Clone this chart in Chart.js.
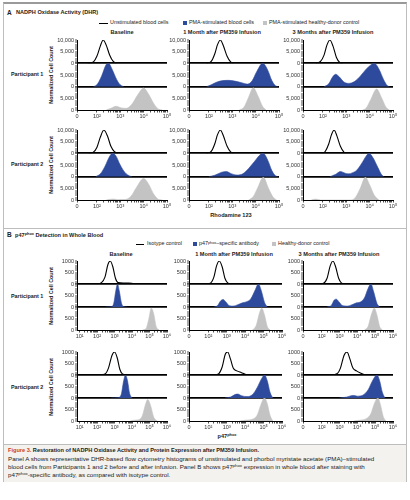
<!DOCTYPE html>
<html>
<head>
<meta charset="utf-8">
<script src="https://cdn.jsdelivr.net/npm/chart.js@4.4.1/dist/chart.umd.min.js"></script>
<style>
  body { margin: 0; width: 410px; height: 500px; background: #fff; position: relative; overflow: hidden;
         font-family: 'Liberation Sans', Arial, sans-serif; color: #222; }
  .t { position: absolute; white-space: nowrap; line-height: 1; }
  .b { font-weight: bold; }
  .c { transform: translateX(-50%); }
  .rot { transform: translate(-50%, -50%) rotate(-90deg); }
  .sq { position: absolute; width: 4px; height: 4px; }
  .ln { position: absolute; height: 0; }
  canvas { position: absolute; }
  sup { font-size: 70%; vertical-align: 0; position: relative; top: -0.45em; }
</style>
</head>
<body>
<div style="position:absolute;left:3px;top:2px;width:404px;height:480px;box-sizing:border-box;border:1px solid #bdbdbd;border-top:2px solid #9a9a9a"></div>
<div class="ln" style="left:3px;width:404px;top:228px;border-top:1px solid #bdbdbd"></div>
<div style="position:absolute;left:4px;top:444px;width:402px;height:37px;background:#f4f2ee;border-top:1px solid #bdbdbd"></div>

<!-- panel A header + legend -->
<div class="t b" style="left:7px;top:10px;font-size:6.5px">A</div>
<div class="t b" style="left:16px;top:10px;font-size:5.6px">NADPH Oxidase Activity (DHR)</div>
<div class="ln" style="left:99px;width:9px;top:22.5px;border-top:1.3px solid #000"></div>
<div class="t" style="left:110px;top:20.3px;font-size:5.4px">Unstimulated blood cells</div>
<div class="sq" style="left:183px;top:21px;background:#2d4a9c"></div>
<div class="t" style="left:189px;top:20.3px;font-size:5.4px">PMA-stimulated blood cells</div>
<div class="sq" style="left:263px;top:21px;background:#c3c3c3"></div>
<div class="t" style="left:269px;top:20.3px;font-size:5.4px">PMA-stimulated healthy-donor control</div>
<div class="t b c" style="left:122px;top:30px;font-size:5.6px">Baseline</div>
<div class="t b c" style="left:222px;top:30px;font-size:5.6px">1 Month after PM359 Infusion</div>
<div class="t b c" style="left:333px;top:30px;font-size:5.6px">3 Months after PM359 Infusion</div>
<div class="t b" style="left:11px;top:71.5px;font-size:5.4px">Participant 1</div>
<div class="t b" style="left:11px;top:161.5px;font-size:5.4px">Participant 2</div>
<div class="t b rot" style="left:52px;top:75px;font-size:5.4px">Normalized Cell Count</div>
<div class="t b rot" style="left:52px;top:165px;font-size:5.4px">Normalized Cell Count</div>
<div class="t b c" style="left:231px;top:213px;font-size:5.6px">Rhodamine 123</div>

<!-- panel B header + legend -->
<div class="t b" style="left:7px;top:232px;font-size:6.5px">B</div>
<div class="t b" style="left:15px;top:232.5px;font-size:5.6px">p47<sup>phox</sup> Detection in Whole Blood</div>
<div class="ln" style="left:136px;width:8px;top:243.5px;border-top:1.3px solid #000"></div>
<div class="t" style="left:147px;top:241.3px;font-size:5.4px">Isotype control</div>
<div class="sq" style="left:193px;top:242px;background:#2d4a9c"></div>
<div class="t" style="left:199px;top:241.3px;font-size:5.4px">p47<sup>phox</sup>–specific antibody</div>
<div class="sq" style="left:272px;top:242px;background:#c3c3c3"></div>
<div class="t" style="left:278px;top:241.3px;font-size:5.4px">Healthy-donor control</div>
<div class="t b c" style="left:121px;top:252px;font-size:5.6px">Baseline</div>
<div class="t b c" style="left:234px;top:252px;font-size:5.6px">1 Month after PM359 Infusion</div>
<div class="t b c" style="left:339px;top:252px;font-size:5.6px">3 Months after PM359 Infusion</div>
<div class="t b" style="left:11px;top:293.5px;font-size:5.4px">Participant 1</div>
<div class="t b" style="left:11px;top:384.5px;font-size:5.4px">Participant 2</div>
<div class="t b rot" style="left:52px;top:295.5px;font-size:5.4px">Normalized Cell Count</div>
<div class="t b rot" style="left:52px;top:386.5px;font-size:5.4px">Normalized Cell Count</div>
<div class="t b c" style="left:227px;top:434px;font-size:5.6px">p47<sup>phox</sup></div>

<!-- caption -->
<div class="t b" style="left:8px;top:448px;font-size:5.6px"><span style="color:#c9412c">Figure 3.</span> Restoration of NADPH Oxidase Activity and Protein Expression after PM359 Infusion.</div>
<div class="t" style="left:8px;top:456px;font-size:6.2px">Panel A shows representative DHR-based flow cytometry histograms of unstimulated and phorbol myristate acetate (PMA)–stimulated</div>
<div class="t" style="left:8px;top:464px;font-size:6.2px">blood cells from Participants 1 and 2 before and after infusion. Panel B shows p47<sup>phox</sup> expression in whole blood after staining with</div>
<div class="t" style="left:8px;top:472px;font-size:6.2px">p47<sup>phox</sup>-specific antibody, as compared with isotype control.</div>

<script>
// x values are log10 of fluorescence, y values are cell counts

// --- axis ticks ---
const xTicksA = [1.15, 2, 3, 4, 5];
const xLabelsA = ['0', '10²', '10³', '10⁴', '10⁵'];
const xTicksB1 = [1, 2, 3, 4, 5, 6];
const xLabelsB1 = ['10¹', '10²', '10³', '10⁴', '10⁵', '10⁶'];
const xTicksB = [0.95, 2, 3, 4, 5, 6];
const xLabelsB = ['0', '10²', '10³', '10⁴', '10⁵', '10⁶'];
const yTicksA = [0, 5000, 10000];
const yLabelsA = ['0', '5,000', '10,000'];
const yTicksB = [0, 500, 1000];
const yLabelsB = ['0', '500', '1000'];

// --- Panel A (DHR), participant 1 ---
const aP1BaseUnstim = [[1.6,0],[1.85,600],[2.0,3000],[2.15,7500],[2.27,10000],[2.4,7800],[2.55,3500],[2.7,800],[2.85,0]];
const aP1BasePma = [[1.85,0],[2.0,800],[2.2,4500],[2.4,9500],[2.5,10000],[2.65,7500],[2.85,3000],[3.0,800],[3.15,0]];
const aP1BaseHealthy = [[2.4,0],[2.6,700],[2.82,1600],[3.05,900],[3.25,700],[3.5,2500],[3.75,6500],[4.0,9400],[4.2,7000],[4.45,2500],[4.65,300],[4.8,0]];
const aP1M1Unstim = [[1.9,0],[2.1,800],[2.25,4000],[2.37,8000],[2.49,10000],[2.62,7500],[2.78,3000],[2.93,600],[3.05,0]];
const aP1M1Pma = [[1.9,0],[2.1,800],[2.35,2000],[2.6,2600],[2.85,2700],[3.1,2400],[3.4,1700],[3.65,1100],[3.85,2500],[4.05,6500],[4.3,10000],[4.5,7500],[4.7,2500],[4.85,400],[4.95,0]];
const aP1M1Healthy = [[3.3,0],[3.5,1200],[3.7,5500],[3.9,9500],[4.1,6000],[4.3,1500],[4.45,0]];
const aP1M3Unstim = [[1.7,0],[1.9,800],[2.05,3500],[2.18,8000],[2.3,10000],[2.43,7500],[2.58,2500],[2.72,400],[2.85,0]];
const aP1M3Pma = [[2.05,0],[2.25,1200],[2.42,4200],[2.55,5300],[2.7,4200],[2.9,2000],[3.1,1400],[3.35,2200],[3.6,4500],[3.85,7500],[4.05,9300],[4.2,10000],[4.4,7500],[4.6,3000],[4.75,500],[4.85,0]];
const aP1M3Healthy = [[3.7,0],[3.85,800],[4.05,4500],[4.3,9000],[4.5,5500],[4.7,1200],[4.85,0]];

// --- Panel A (DHR), participant 2 ---
const aP2BaseUnstim = [[1.65,0],[1.85,500],[2.0,2500],[2.15,7000],[2.3,10000],[2.45,7500],[2.6,3000],[2.75,700],[2.9,0]];
const aP2BasePma = [[1.95,0],[2.15,1200],[2.35,4500],[2.55,8800],[2.68,10000],[2.82,8800],[3.0,5000],[3.2,1800],[3.4,300],[3.5,0]];
const aP2BaseHealthy = [[2.4,0],[2.7,400],[2.9,150],[3.2,200],[3.45,1500],[3.7,5500],[4.0,9200],[4.2,7000],[4.45,2200],[4.65,200],[4.8,0]];
const aP2M1Unstim = [[1.9,0],[2.1,800],[2.25,4000],[2.37,8000],[2.49,10000],[2.62,7500],[2.78,3000],[2.93,600],[3.05,0]];
const aP2M1Pma = [[2.0,0],[2.25,600],[2.55,1900],[2.75,2200],[2.95,1300],[3.2,700],[3.45,1200],[3.7,3500],[3.95,6500],[4.2,9500],[4.32,10000],[4.5,7500],[4.7,2500],[4.85,400],[4.95,0]];
const aP2M1Healthy = [[3.7,0],[3.9,1500],[4.1,5500],[4.33,9700],[4.55,5000],[4.75,1200],[4.9,0]];
const aP2M3Unstim = [[1.95,0],[2.1,800],[2.25,4000],[2.37,8000],[2.48,10000],[2.6,7500],[2.75,3000],[2.9,500],[3.0,0]];
const aP2M3Pma = [[2.3,0],[2.55,1000],[2.75,2200],[2.95,1500],[3.1,1200],[3.25,1600],[3.45,2800],[3.65,5500],[3.85,8800],[3.97,10000],[4.15,8000],[4.35,4000],[4.5,1000],[4.6,0]];
const aP2M3Healthy = [[1.5,0],[1.7,400],[1.9,0],[3.2,0],[3.4,1200],[3.6,5000],[3.82,9700],[4.0,6500],[4.2,2000],[4.4,0]];

// --- Panel B (p47phox), participant 1 ---
const bP1BaseIso = [[1.5,0],[2.0,10],[2.25,60],[2.45,300],[2.62,850],[2.75,1000],[2.9,750],[3.05,250],[3.2,60],[3.5,40],[3.8,45],[4.1,15],[4.4,0]];
const bP1BaseSpec = [[2.5,0],[2.8,10],[2.95,150],[3.07,700],[3.17,1000],[3.27,700],[3.4,150],[3.55,10],[3.7,0]];
const bP1BaseHealthy = [[4.6,0],[4.8,60],[4.95,450],[5.1,950],[5.24,700],[5.38,150],[5.55,0]];
const bP1M1Iso = [[1.8,0],[2.1,30],[2.3,300],[2.45,800],[2.59,1000],[2.75,750],[2.9,250],[3.05,50],[3.25,0]];
const bP1M1Spec = [[2.3,0],[2.5,60],[2.65,250],[2.8,330],[2.95,220],[3.15,50],[3.35,40],[3.6,100],[3.85,180],[4.05,220],[4.3,350],[4.55,750],[4.72,1000],[4.88,700],[5.05,200],[5.2,0]];
const bP1M1Healthy = [[4.4,0],[4.6,200],[4.78,750],[4.9,950],[5.05,650],[5.2,150],[5.35,0]];
const bP1M3Iso = [[1.8,0],[2.1,30],[2.3,250],[2.48,800],[2.63,1000],[2.78,750],[2.95,250],[3.1,50],[3.3,0]];
const bP1M3Spec = [[2.3,0],[2.55,80],[2.7,300],[2.82,340],[2.97,220],[3.2,50],[3.45,40],[3.7,100],[3.95,180],[4.2,230],[4.4,400],[4.6,800],[4.76,1000],[4.92,650],[5.1,150],[5.25,0]];
const bP1M3Healthy = [[4.4,0],[4.6,150],[4.78,650],[4.95,950],[5.1,650],[5.25,150],[5.4,0]];

// --- Panel B (p47phox), participant 2 ---
const bP2BaseIso = [[1.5,0],[2.2,10],[2.45,40],[2.65,300],[2.85,850],[3.0,1000],[3.15,750],[3.3,250],[3.45,50],[3.7,10],[3.9,0]];
const bP2BaseSpec = [[2.8,0],[3.2,15],[3.38,150],[3.52,750],[3.62,1000],[3.74,750],[3.86,200],[4.0,0]];
const bP2BaseHealthy = [[3.9,0],[4.2,40],[4.45,80],[4.6,250],[4.78,750],[4.9,930],[5.05,700],[5.25,150],[5.45,0]];
const bP2M1Iso = [[2.3,0],[2.55,50],[2.75,350],[2.92,900],[3.05,1000],[3.2,700],[3.35,300],[3.55,180],[3.8,100],[4.0,30],[4.2,0]];
const bP2M1Spec = [[2.9,0],[3.2,40],[3.45,150],[3.6,170],[3.8,100],[4.1,60],[4.4,150],[4.65,450],[4.9,850],[5.05,1000],[5.2,750],[5.35,250],[5.5,0]];
const bP2M1Healthy = [[3.7,0],[4.05,40],[4.4,80],[4.65,250],[4.85,700],[5.05,1000],[5.2,750],[5.35,250],[5.5,0]];
const bP2M3Iso = [[2.5,0],[2.85,50],[3.05,300],[3.25,850],[3.42,1000],[3.58,700],[3.75,300],[3.95,180],[4.2,80],[4.45,0]];
const bP2M3Spec = [[3.0,0],[3.4,40],[3.65,100],[3.8,110],[4.0,80],[4.3,120],[4.6,350],[4.85,750],[5.1,1000],[5.25,750],[5.4,250],[5.55,0]];
const bP2M3Healthy = [[3.8,0],[4.2,40],[4.5,100],[4.75,300],[4.95,750],[5.15,1000],[5.3,700],[5.45,200],[5.6,0]];

const BLUE = '#2d4a9c';
const GREY = '#c3c3c3';
Chart.defaults.font.family = "'Liberation Sans', Arial, sans-serif";
Chart.defaults.font.size = 5.5;
Chart.defaults.color = '#333';

const axA = { yMax: 10000, yStep: 1000, yTicks: yTicksA, yLabels: yLabelsA };
const axB = { yMax: 1000, yStep: 100, yTicks: yTicksB, yLabels: yLabelsB };
const xA = { xMin: 1.15, xMax: 5, xTicks: xTicksA, xLabels: xLabelsA, minorFrom: 2, minorTo: 5 };
const xB1 = { xMin: 0.85, xMax: 6, xTicks: xTicksB1, xLabels: xLabelsB1, minorFrom: 1, minorTo: 6 };
const xB = { xMin: 0.95, xMax: 6, xTicks: xTicksB, xLabels: xLabelsB, minorFrom: 2, minorTo: 6 };

const panels = [
  { left: 77, top: 40, w: 90, h: 70, ax: axA, x: xA, curves: [aP1BaseUnstim, aP1BasePma, aP1BaseHealthy] },
  { left: 189, top: 40, w: 90, h: 70, ax: axA, x: xA, curves: [aP1M1Unstim, aP1M1Pma, aP1M1Healthy] },
  { left: 303, top: 40, w: 90, h: 70, ax: axA, x: xA, curves: [aP1M3Unstim, aP1M3Pma, aP1M3Healthy] },
  { left: 77, top: 130, w: 90, h: 70, ax: axA, x: xA, curves: [aP2BaseUnstim, aP2BasePma, aP2BaseHealthy] },
  { left: 189, top: 130, w: 90, h: 70, ax: axA, x: xA, curves: [aP2M1Unstim, aP2M1Pma, aP2M1Healthy] },
  { left: 303, top: 130, w: 90, h: 70, ax: axA, x: xA, curves: [aP2M3Unstim, aP2M3Pma, aP2M3Healthy] },
  { left: 77, top: 261, w: 90, h: 69, ax: axB, x: xB1, curves: [bP1BaseIso, bP1BaseSpec, bP1BaseHealthy] },
  { left: 189, top: 261, w: 93, h: 69, ax: axB, x: xB, curves: [bP1M1Iso, bP1M1Spec, bP1M1Healthy] },
  { left: 303, top: 261, w: 90, h: 69, ax: axB, x: xB, curves: [bP1M3Iso, bP1M3Spec, bP1M3Healthy] },
  { left: 77, top: 352, w: 90, h: 69, ax: axB, x: xB1, curves: [bP2BaseIso, bP2BaseSpec, bP2BaseHealthy] },
  { left: 189, top: 352, w: 93, h: 69, ax: axB, x: xB, curves: [bP2M1Iso, bP2M1Spec, bP2M1Healthy] },
  { left: 303, top: 352, w: 90, h: 69, ax: axB, x: xB, curves: [bP2M3Iso, bP2M3Spec, bP2M3Healthy] }
];

const Y_W = 30, PAD_T = 5, PAD_R = 6, X_H = 12;

function yAxis(ax, weight, showTop) {
  return {
    type: 'linear', position: 'left', stack: 'tracks', stackWeight: 1, weight: weight,
    min: 0, max: ax.yMax, z: 1,
    afterFit: s => { s.width = Y_W; },
    ticks: {
      stepSize: ax.yStep, autoSkip: false, padding: 1,
      callback: v => {
        const i = ax.yTicks.indexOf(v);
        if (i < 0) return '';
        if (v === ax.yMax && !showTop) return '';
        return ax.yLabels[i];
      }
    },
    grid: {
      drawTicks: true, tickLength: 2, tickColor: '#000', tickWidth: 0.7,
      color: c => (c.tick && c.tick.value === 0) ? '#000' : 'rgba(0,0,0,0)',
      lineWidth: c => (c.tick && c.tick.value === 0) ? (weight === 1 ? 0 : 1.8) : 0
    },
    border: { color: '#000', width: 1 }
  };
}

function xAxis(x) {
  const ticks = x.xTicks.map((v, i) => ({ value: v, label: x.xLabels[i] }));
  for (let n = x.minorFrom; n < x.minorTo; n++) {
    for (let k = 2; k <= 9; k++) ticks.push({ value: n + Math.log10(k), label: '' });
  }
  ticks.sort((a, b) => a.value - b.value);
  return {
    type: 'linear', min: x.xMin, max: x.xMax, bounds: 'data',
    afterFit: s => { s.height = X_H; },
    afterBuildTicks: s => { s.ticks = ticks.map(t => ({ value: t.value })); },
    ticks: { autoSkip: false, maxRotation: 0, padding: 0.5, callback: (v, i) => ticks[i].label },
    grid: { drawOnChartArea: false, tickLength: 2.5, tickColor: '#000', tickWidth: 0.7 },
    border: { color: '#000', width: 1 }
  };
}

function toXY(curve) { return curve.map(p => ({ x: p[0], y: p[1] })); }

panels.forEach(p => {
  const cv = document.createElement('canvas');
  cv.width = Y_W + p.w + PAD_R;
  cv.height = PAD_T + p.h + X_H;
  cv.style.left = (p.left - Y_W) + 'px';
  cv.style.top = (p.top - PAD_T) + 'px';
  document.body.appendChild(cv);

  const common = { pointRadius: 0, cubicInterpolationMode: 'monotone' };
  new Chart(cv.getContext('2d'), {
    type: 'line',
    data: {
      datasets: [
        { ...common, data: toXY(p.curves[0]), yAxisID: 'y1', borderColor: '#000', borderWidth: 1.1, fill: false },
        { ...common, data: toXY(p.curves[1]), yAxisID: 'y2', borderColor: BLUE, backgroundColor: BLUE, borderWidth: 0.6, fill: 'origin' },
        { ...common, data: toXY(p.curves[2]), yAxisID: 'y3', borderColor: GREY, backgroundColor: GREY, borderWidth: 0.6, fill: 'origin' }
      ]
    },
    options: {
      responsive: false, animation: false, devicePixelRatio: 1,
      layout: { padding: { top: PAD_T, right: PAD_R, left: 0, bottom: 0 } },
      plugins: { legend: { display: false }, tooltip: { enabled: false } },
      scales: {
        x: xAxis(p.x),
        y1: yAxis(p.ax, 3, true),
        y2: yAxis(p.ax, 2, false),
        y3: yAxis(p.ax, 1, false)
      }
    }
  });
});
</script>
</body>
</html>
